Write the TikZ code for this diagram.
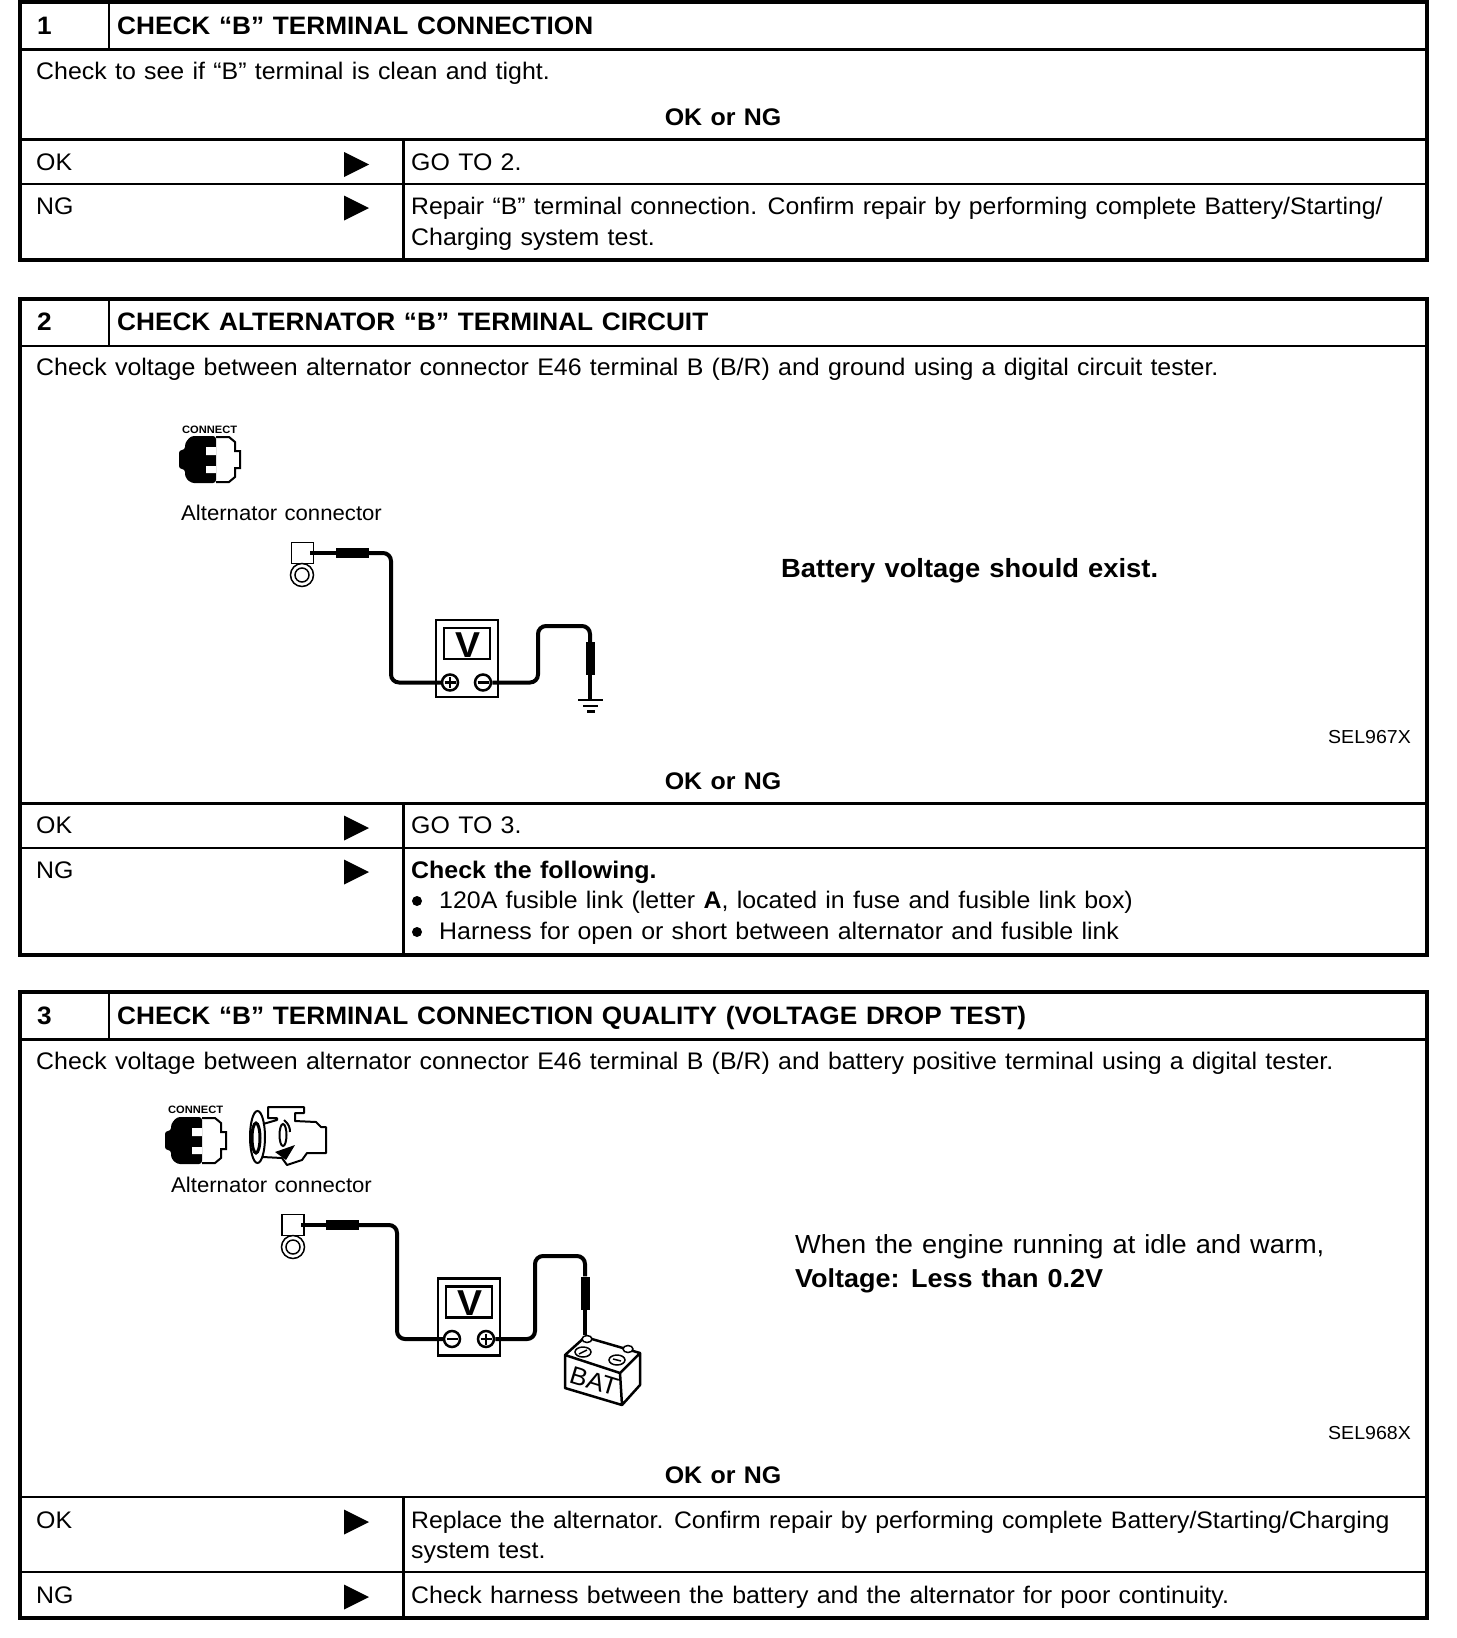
\documentclass[tikz,border=0pt]{standalone}
\usepackage{fontspec}
\setmainfont{Liberation Sans}[WordSpace=1.2,FakeStretch=1.04]
\usetikzlibrary{arrows.meta,positioning}
\tikzset{
frame/.style={line width=4.5pt},
rule/.style={line width=2pt},
midrule/.style={line width=2.5pt},
wire/.style={line width=4pt,rounded corners=8pt},
leadwire/.style={line width=3.5pt},
bodytext/.style={anchor=base west,inner sep=0pt,font=\fontsize{23.95}{28}\selectfont},
headtext/.style={anchor=base west,inner sep=0pt,font=\fontsize{25.2}{28}\selectfont\bfseries},
oknode/.style={anchor=base,inner sep=0pt,font=\fontsize{24}{28}\selectfont\bfseries},
smalltext/.style={anchor=base east,inner sep=0pt,font=\fontsize{18.8}{24}\selectfont},
labeltext/.style={anchor=base west,inner sep=0pt,font=\fontsize{21.3}{24}\selectfont},
bigtext/.style={anchor=base west,inner sep=0pt,font=\fontsize{26.1}{30}\selectfont},
connecttext/.style={anchor=base west,inner sep=0pt,font=\fontsize{10.7}{12}\selectfont\bfseries},
meter/.style={draw,line width=2.5pt,minimum width=62pt,minimum height=77pt,inner sep=0pt},
display/.style={draw,line width=2.5pt,minimum width=46pt,minimum height=31pt,inner sep=0pt},
vlabel/.style={inner sep=0pt,font=\fontsize{36}{36}\selectfont\bfseries},
pole/.style={draw,fill=white,circle,line width=2.5pt,minimum size=16pt,inner sep=0pt},
tube/.style={fill,inner sep=0pt},
terminal/.style={draw,line width=1.5pt,minimum width=22pt,minimum height=21pt,inner sep=0pt},
tri/.pic={\fill (0,12.5)--(25,0)--(0,-12.5)--cycle;},
bullet/.pic={\fill (0,0) circle (5pt);},
plug/.pic={
\fill[rounded corners=3pt] (0,14)--(6,14)--(6,7)--(12,0)--(37,0)--(37,47)--(12,47)--(6,41)--(6,33)--(0,33)--cycle;
\fill[white] (27,11) rectangle (37,19) (27,30) rectangle (37,37);
\draw[line width=2pt] (37,1)--(50,1)--(56,6)--(56,15)--(61,15)--(61,32)--(56,32)--(56,41)--(50,46)--(37,46);
},
ring/.pic={\draw[line width=1.5pt] (0,0) circle (11.5pt) (0,0) circle (7pt);},
}
\begin{document}
\begin{tikzpicture}[x=1pt,y=-1pt]
\useasboundingbox (0,0) rectangle (1456,1638);
% box 1
\draw[frame] (20,2) rectangle (1427,260);
\draw[midrule] (20,49.5)--(1427,49.5);
\draw[midrule] (109,2)--(109,49.5);
\draw[midrule] (20,139.5)--(1427,139.5);
\draw[rule] (20,184)--(1427,184);
\draw[midrule] (403.5,139.5)--(403.5,260);
\node[headtext] (no1) at (37,34) {1};
\node[headtext] (head1) at (117,34) {CHECK “B” TERMINAL CONNECTION};
\node[bodytext] (check1) at (36,79) {Check to see if “B” terminal is clean and tight.};
\node[oknode] (okng1) at (723,125) {OK or NG};
\node[bodytext] (ok1) at (36,170) {OK};
\node[bodytext] (ng1) at (36,214) {NG};
\pic at (344,164.5) {tri};
\pic at (344,208) {tri};
\node[bodytext] (go1) at (411,170) {GO TO 2.};
\node[bodytext,font=\fontsize{23.85}{28}\selectfont] (rep1) at (411,214) {Repair “B” terminal connection. Confirm repair by performing complete Battery/Starting/};
\node[bodytext] (rep1b) at (411,245) {Charging system test.};
% box 2
\draw[frame] (20,299) rectangle (1427,955);
\draw[midrule] (20,346)--(1427,346);
\draw[midrule] (109,299)--(109,346);
\draw[midrule] (20,803.5)--(1427,803.5);
\draw[rule] (20,847.5)--(1427,847.5);
\draw[midrule] (403.5,803.5)--(403.5,955);
\node[headtext] (no2) at (37,330) {2};
\node[headtext] (head2) at (117,330) {CHECK ALTERNATOR “B” TERMINAL CIRCUIT};
\node[bodytext] (check2) at (36,375.5) {Check voltage between alternator connector E46 terminal B (B/R) and ground using a digital circuit tester.};
\node[connecttext] (conn2) at (182,433) {CONNECT};
\pic at (179,436) {plug};
\node[labeltext] (alt2) at (181,520) {Alternator connector};
\node[terminal] (term2) at (302.5,553) {};
\pic at (302,575) {ring};
\node[tube,minimum width=33pt,minimum height=10pt] (tube2a) at (352.5,553) {};
\coordinate (lead2) at (310,553);
\node[meter] (meter2) at (467,658.5) {};
\node[display] (disp2) at (467,643.5) {};
\node[vlabel] (vee2) at (468,645) {V};
\node[pole] (plus2) at (450,682.5) {};
\node[pole] (minus2) at (483,682.5) {};
\draw[line width=2.5pt] (444.5,682.5)--(455.5,682.5) (450,677)--(450,688) (477.5,682.5)--(488.5,682.5);
\coordinate (bend2a) at (391,620);
\coordinate (bend2b) at (538,650);
\node[tube,minimum width=9pt,minimum height=33pt] (tube2b) at (590,658.5) {};
\coordinate (top2) at (590,626);
\coordinate (gnd2) at (590,700);
\draw[leadwire] (lead2)--(tube2a.west);
\draw[wire] (tube2a.east) -| (bend2a) |- (plus2.west);
\draw[wire] (minus2.east) -| (bend2b) |- (top2) -- (tube2b.north);
\draw[leadwire] (tube2b.south)--(gnd2);
\draw[line width=2.5pt] (578,700)--(603,700) (583,706)--(598,706) (587,711.5)--(595,711.5);
\node[bigtext,font=\fontsize{26.3}{30}\selectfont] (volt2) at (781,577) {\bfseries Battery voltage should exist.};
\node[smalltext] (sel2) at (1411,743) {SEL967X};
\node[oknode] (okng2) at (723,789) {OK or NG};
\node[bodytext] (ok2) at (36,833) {OK};
\node[bodytext] (ng2) at (36,878) {NG};
\pic at (344,828) {tri};
\pic at (344,872) {tri};
\node[bodytext] (go2) at (411,833) {GO TO 3.};
\node[bodytext,font=\fontsize{24}{28}\selectfont\bfseries] (fol2) at (411,878) {Check the following.};
\pic at (417,901) {bullet};
\pic at (417,932) {bullet};
\node[bodytext] (fol2a) at (439,908) {120A fusible link (letter \textbf{A}, located in fuse and fusible link box)};
\node[bodytext] (fol2b) at (439,939) {Harness for open or short between alternator and fusible link};
% box 3
\draw[frame] (20,992) rectangle (1427,1618);
\draw[midrule] (20,1039.5)--(1427,1039.5);
\draw[midrule] (109,992)--(109,1039.5);
\draw[midrule] (20,1497)--(1427,1497);
\draw[rule] (20,1572)--(1427,1572);
\draw[midrule] (403.5,1497)--(403.5,1618);
\node[headtext] (no3) at (37,1024) {3};
\node[headtext] (head3) at (117,1024) {CHECK “B” TERMINAL CONNECTION QUALITY (VOLTAGE DROP TEST)};
\node[bodytext] (check3) at (36,1069) {Check voltage between alternator connector E46 terminal B (B/R) and battery positive terminal using a digital tester.};
\node[connecttext] (conn3) at (168,1113) {CONNECT};
\pic at (165,1117) {plug};
% alternator
\draw[line width=2pt,line join=round] (263,1124)--(277,1120)--(277,1118)--(268,1118)--(268,1107)--(304,1107)--(304,1113)--(295,1113)--(295,1121)--(316,1122)--(321,1127)--(326,1127)--(326,1153)--(307,1153)--(302,1160)--(287,1165)--(282,1158)--(263,1157);
\draw[line width=2pt] (257.5,1137) ellipse (7.5pt and 26pt);
\draw[line width=3pt] (256,1138) ellipse (4pt and 15pt);
\draw[line width=2pt] (283,1135) ellipse (3.5pt and 11pt);
\draw[line width=2pt] (284,1120) .. controls (289,1124) and (290,1128) .. (290,1132);
\fill (275,1152)--(295,1145)--(286,1160)--cycle;
\node[labeltext] (alt3) at (171,1192) {Alternator connector};
\node[terminal] (term3) at (293,1225) {};
\pic at (293,1247) {ring};
\node[tube,minimum width=33pt,minimum height=10pt] (tube3a) at (342.5,1225) {};
\coordinate (lead3) at (301,1225);
\node[meter] (meter3) at (469,1317) {};
\node[display] (disp3) at (469,1302) {};
\node[vlabel] (vee3) at (469.5,1303.5) {V};
\node[pole] (minus3) at (452,1339) {};
\node[pole] (plus3) at (486,1339) {};
\draw[line width=2.5pt] (446.5,1339)--(457.5,1339) (480.5,1339)--(491.5,1339) (486,1333.5)--(486,1344.5);
\coordinate (bend3a) at (397,1280);
\coordinate (bend3b) at (535,1300);
\node[tube,minimum width=9pt,minimum height=33pt] (tube3b) at (585,1293) {};
\coordinate (top3) at (585,1256);
\coordinate (post3) at (585,1335);
\draw[leadwire] (lead3)--(tube3a.west);
\draw[wire] (tube3a.east) -| (bend3a) |- (minus3.west);
\draw[wire] (plus3.east) -| (bend3b) |- (top3) -- (tube3b.north);
\draw[leadwire] (tube3b.south)--(post3);
% battery
\draw[line width=2.5pt,line join=round] (565,1355)--(585,1337)--(640,1353)--(620,1373)--(565,1355)--(565,1388)--(622,1405)--(640,1385)--(640,1353) (620,1373)--(622,1405);
\draw[line width=1.5pt] (583,1352) ellipse (8pt and 5pt) (617,1360) ellipse (8pt and 5pt);
\draw[line width=1.5pt] (579,1354)--(587,1350) (613,1359)--(621,1361);
\draw[line width=1.5pt,fill=white] (587,1339) ellipse (5pt and 3.5pt) (628,1349) ellipse (5pt and 3.5pt);
\node[inner sep=0pt,rotate=-17,font=\fontsize{25}{28}\selectfont] (bat3) at (594,1381) {BAT};
\node[bodytext,font=\fontsize{26.15}{30}\selectfont] (when3) at (795,1253.5) {When the engine running at idle and warm,};
\node[bigtext,font=\fontsize{25.95}{30}\selectfont] (volt3) at (795,1287) {\bfseries Voltage: Less than 0.2V};
\node[smalltext] (sel3) at (1411,1439) {SEL968X};
\node[oknode] (okng3) at (723,1483) {OK or NG};
\node[bodytext] (ok3) at (36,1528) {OK};
\node[bodytext] (ng3) at (36,1603) {NG};
\pic at (344,1522) {tri};
\pic at (344,1597) {tri};
\node[bodytext,font=\fontsize{23.85}{28}\selectfont] (rep3) at (411,1528) {Replace the alternator. Confirm repair by performing complete Battery/Starting/Charging};
\node[bodytext] (rep3b) at (411,1558) {system test.};
\node[bodytext] (rep3c) at (411,1603) {Check harness between the battery and the alternator for poor continuity.};
\end{tikzpicture}
\end{document}
